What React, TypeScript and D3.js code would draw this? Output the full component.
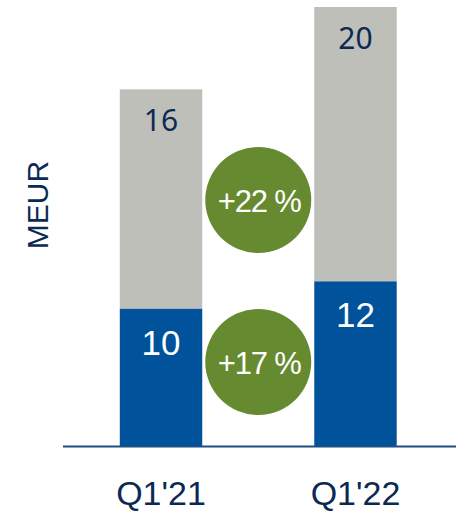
import React from "react";
import * as d3 from "d3";

const categories = ["Q1'21", "Q1'22"];
const blueValues = [10, 12];
const greyValues = [16, 20];
const growthLabels = ["+22 %", "+17 %"];
const axisTitle = "MEUR";

const W = 456;
const H = 515;
const BLUE = "#00529B";
const GREY = "#BEBFB9";
const GREEN = "#668A2F";
const NAVY = "#0B2A53";

export default function App() {
  const x = d3
    .scaleBand<string>()
    .domain(categories)
    .range([63, 453.5])
    .paddingInner(0.576)
    .paddingOuter(0.292);
  const y = d3.scaleLinear().domain([0, 32]).range([446, 7]);
  const bw = x.bandwidth();

  const stacks = categories.map((c, i) => ({
    c,
    blue: blueValues[i],
    grey: greyValues[i],
    total: blueValues[i] + greyValues[i],
  }));

  const midX = ((x(categories[0]) as number) + bw + (x(categories[1]) as number)) / 2;
  const circleY = [200, 362];
  const r = 53;

  return (
    <svg
      width={W}
      height={H}
      style={{ position: "absolute", left: 0, top: 0 }}
      fontFamily="'Liberation Sans', Arial, sans-serif"
    >
      <rect width={W} height={H} fill="#fff" />
      {stacks.map((s) => {
        const x0 = x(s.c) as number;
        return (
          <g key={s.c}>
            <rect x={x0} y={y(s.total)} width={bw} height={y(s.blue) - y(s.total)} fill={GREY} />
            <rect x={x0} y={y(s.blue)} width={bw} height={y(0) - y(s.blue)} fill={BLUE} />
            <text
              x={x0 + bw / 2}
              y={y(s.total) + 42}
              textAnchor="middle"
              fontSize={30}
              fill={NAVY}
              fontFamily="'Noto Sans', sans-serif"
            >
              {s.grey}
            </text>
            <text
              x={x0 + bw / 2}
              y={y(s.blue) + 46}
              textAnchor="middle"
              fontSize={35}
              fill="#fff"
            >
              {s.blue}
            </text>
            <text
              x={x0 + bw / 2}
              y={505}
              textAnchor="middle"
              fontSize={34}
              fill={NAVY}
            >
              {s.c}
            </text>
          </g>
        );
      })}
      <line x1={63} x2={W} y1={y(0) + 0.5} y2={y(0) + 0.5} stroke="#1F4D86" strokeWidth={2} />
      {growthLabels.map((g, i) => (
        <g key={g}>
          <circle cx={midX} cy={circleY[i]} r={r} fill={GREEN} />
          <text
            x={midX + 1}
            y={circleY[i] + 12}
            textAnchor="middle"
            fontSize={31}
            letterSpacing={-1.2}
            fill="#fff"
          >
            {g}
          </text>
        </g>
      ))}
      <text
        transform="translate(48,205) rotate(-90)"
        textAnchor="middle"
        fontSize={30}
        fill={NAVY}
      >
        {axisTitle}
      </text>
    </svg>
  );
}
